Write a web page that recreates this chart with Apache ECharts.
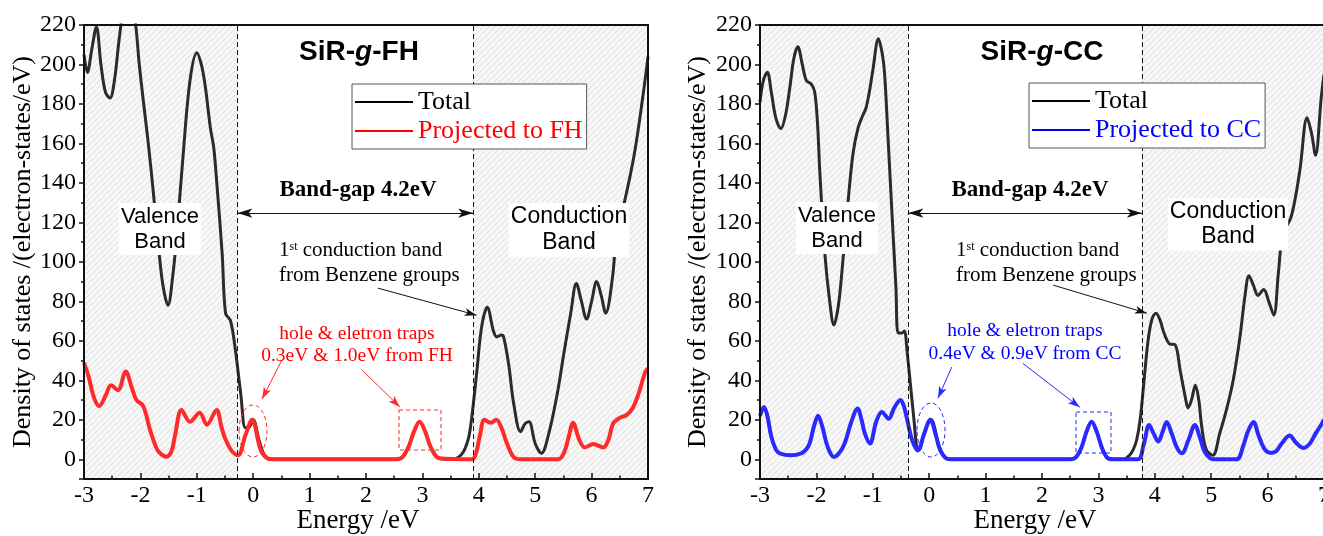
<!DOCTYPE html>
<html><head><meta charset="utf-8">
<script src="https://cdn.jsdelivr.net/npm/echarts@6.0.0/dist/echarts.min.js"></script>
<style>html,body{margin:0;padding:0;background:#fff}#c{width:1323px;height:536px}</style>
</head><body><div id="c"></div><script>
// ---------------- data (energy eV, DOS) ----------------
const totalFH = [[-3.0,205],[-2.94,196],[-2.86,208],[-2.78,219],[-2.70,200],[-2.62,186],[-2.54,183],[-2.46,192],[-2.38,212],[-2.30,228],[-2.20,236],[-2.10,224],[-2.02,200],[-1.95,182],[-1.86,160],[-1.77,135],[-1.68,108],[-1.60,88],[-1.51,78],[-1.43,92],[-1.36,112],[-1.24,155],[-1.12,192],[-1.00,206],[-0.92,200],[-0.85,189],[-0.76,168],[-0.70,158],[-0.64,138],[-0.55,104],[-0.49,74],[-0.40,70],[-0.31,54],[-0.22,33],[-0.14,16],[-0.08,16],[0.0,20],[0.1,10],[0.2,2],[0.3,0],[0.5,0],[2.5,0],[2.62,0.5],[2.75,6],[2.85,14],[2.95,19],[3.05,14],[3.15,6],[3.3,0.5],[3.5,0],[3.6,0.5],[3.68,2],[3.75,5],[3.82,11],[3.87,20],[3.96,43],[4.05,67],[4.15,77],[4.26,65],[4.32,62],[4.40,63],[4.44,62],[4.53,48],[4.62,28],[4.74,14],[4.82,18],[4.89,19],[5.00,8],[5.11,3],[5.24,13],[5.39,33],[5.51,54],[5.63,74],[5.73,89],[5.82,80],[5.91,71],[6.00,80],[6.09,90],[6.17,83],[6.25,74],[6.37,92],[6.45,116],[6.58,130],[6.76,155],[6.91,184],[7.0,204]];
const projFH = [[-3.0,49],[-2.92,42],[-2.82,31],[-2.73,27],[-2.62,32],[-2.52,37.5],[-2.40,35],[-2.26,44.5],[-2.15,36],[-2.07,30],[-1.95,27],[-1.83,15],[-1.72,6],[-1.65,3],[-1.54,1.3],[-1.45,4],[-1.39,11.5],[-1.27,25],[-1.12,19],[-0.95,23.5],[-0.82,17.5],[-0.65,25],[-0.56,16],[-0.49,10],[-0.375,4],[-0.27,2],[-0.14,12],[-0.02,20],[0.13,5],[0.25,0.5],[0.35,0],[2.5,0],[2.62,0.5],[2.75,6],[2.85,14],[2.95,19],[3.05,14],[3.15,6],[3.3,0.5],[3.88,0],[3.95,3],[4.02,12],[4.10,20],[4.21,18.5],[4.31,20],[4.40,16],[4.50,8],[4.62,1],[4.75,0],[5.41,0],[5.52,4],[5.60,12],[5.67,18.5],[5.78,10],[5.88,6],[6.03,7.7],[6.21,6],[6.30,10],[6.38,18],[6.50,21],[6.62,22.4],[6.73,26],[6.83,33],[6.95,44],[7.0,46]];
const totalCC = [[-3.0,181],[-2.94,192],[-2.87,196],[-2.80,186],[-2.72,173],[-2.63,167.5],[-2.55,174],[-2.47,188.5],[-2.40,203],[-2.33,209],[-2.25,200],[-2.18,192],[-2.09,190],[-2.03,186],[-1.98,170],[-1.94,146],[-1.85,104],[-1.76,79],[-1.69,68],[-1.62,76],[-1.56,91],[-1.44,130],[-1.35,155],[-1.26,168],[-1.18,174],[-1.12,178],[-1.05,188],[-1.00,197],[-0.90,213],[-0.83,205],[-0.79,195],[-0.73,163],[-0.67,130],[-0.59,87],[-0.55,64],[-0.48,64],[-0.44,65],[-0.39,54],[-0.33,37],[-0.27,20],[-0.22,6],[-0.18,5],[-0.08,14],[0.03,20],[0.19,5],[0.3,0.5],[0.4,0],[2.5,0],[2.6,1],[2.70,6],[2.79,14],[2.88,19],[2.97,14],[3.06,6],[3.15,1],[3.25,0],[3.44,0],[3.55,2],[3.62,5],[3.68,10],[3.74,20],[3.80,37],[3.88,60],[3.95,71],[4.02,74],[4.10,70],[4.15,65],[4.26,58.5],[4.36,58],[4.45,45],[4.54,31.5],[4.59,26],[4.65,30],[4.72,37.5],[4.78,30],[4.83,17],[4.91,5],[5.03,2],[5.15,13],[5.27,25],[5.39,40],[5.51,62],[5.60,83],[5.67,93],[5.75,88],[5.83,83],[5.93,86],[6.02,80],[6.11,73],[6.19,94],[6.27,114],[6.42,123],[6.57,146],[6.70,173],[6.78,165],[6.85,154],[6.95,183],[7.0,195]];
const projCC = [[-3.0,22],[-2.93,26.5],[-2.87,22],[-2.80,11.5],[-2.72,5],[-2.65,3],[-2.45,2],[-2.27,3],[-2.18,5],[-2.12,8],[-2.04,17],[-1.97,22],[-1.90,17],[-1.82,8],[-1.75,3],[-1.69,1.2],[-1.60,3],[-1.50,8],[-1.38,19],[-1.27,25.7],[-1.20,20],[-1.14,13],[-1.05,8],[-0.94,19],[-0.84,24],[-0.72,20.5],[-0.62,26],[-0.51,30],[-0.45,27],[-0.39,20],[-0.30,9.5],[-0.20,4.5],[-0.10,12],[0.02,20],[0.12,12],[0.19,5],[0.3,0.5],[0.4,0],[2.5,0],[2.6,1],[2.70,6],[2.79,14],[2.88,19],[2.97,14],[3.06,6],[3.15,1],[3.25,0],[3.7,0],[3.80,7],[3.90,17.4],[3.98,13],[4.06,9],[4.14,14],[4.21,18.9],[4.30,13],[4.39,6],[4.48,3],[4.60,10],[4.71,17.4],[4.80,11],[4.88,4],[4.98,0.5],[5.05,0],[5.45,0],[5.57,7],[5.65,14],[5.75,18.9],[5.84,12],[5.95,5],[6.06,3.2],[6.15,4],[6.25,8],[6.39,12],[6.50,8.5],[6.63,5.7],[6.75,8],[6.85,13],[6.96,18],[7.0,20]];
const gapFH = [-0.28, 3.9];
const gapCC = [-0.37, 3.77];
const yBandArrow = 124.7;
const titles = ['SiR-', 'g', '-FH', '-CC'];
const seriesNames = ['Total', 'Projected to FH', 'Projected to CC'];

// ---------------- style ----------------
const SERIF = '"Liberation Serif","Times New Roman",serif';
const SANS = '"Liberation Sans",Arial,sans-serif';
const BLACK = '#2b2b2b', RED = '#ff2a2a', BLUE = '#2a2aff';

function makeHatch(){
  const s = 6, c = document.createElement('canvas'); c.width = s; c.height = s;
  const g = c.getContext('2d');
  g.fillStyle = '#f7f7f7'; g.fillRect(0,0,s,s);
  g.strokeStyle = '#dcdcdc'; g.lineWidth = 0.9;
  [[-1,s+1,s+1,-1],[-1,1,1,-1],[s-1,s+1,s+1,s-1]].forEach(l=>{g.beginPath();g.moveTo(l[0],l[1]);g.lineTo(l[2],l[3]);g.stroke();});
  return c;
}
const hatch = {image: makeHatch(), repeat: 'repeat'};

const axisLineStyle = {color:'#111', width:2};
function xMain(gi){return {type:'value', gridIndex:gi, min:-3, max:7, interval:1, z:10,
  axisLine:{show:true, onZero:false, lineStyle:axisLineStyle},
  axisTick:{show:true, inside:true, length:6, lineStyle:{color:'#111', width:1.5}},
  minorTick:{show:true, splitNumber:2, length:3.5, lineStyle:{color:'#111', width:1.5}},
  axisLabel:{color:'#000', fontFamily:SERIF, fontSize:24, margin:5},
  splitLine:{show:false}, minorSplitLine:{show:false}};}
function xTop(gi){return {type:'value', gridIndex:gi, position:'top', min:-3, max:7, z:10,
  axisLine:{show:true, onZero:false, lineStyle:axisLineStyle}, axisTick:{show:false}, axisLabel:{show:false}, splitLine:{show:false}};}
function yMain(gi){return {type:'value', gridIndex:gi, min:-10, max:220, splitNumber:11, z:10,
  axisLine:{show:true, onZero:false, lineStyle:axisLineStyle},
  axisTick:{show:true, inside:false, length:5, lineStyle:{color:'#111', width:1.5}},
  minorTick:{show:true, splitNumber:2, length:3, lineStyle:{color:'#111', width:1.5}},
  axisLabel:{color:'#000', fontFamily:SERIF, fontSize:24, margin:8, formatter:v=> v<0 ? '' : String(v)},
  splitLine:{show:false}, minorSplitLine:{show:false}};}
function yRight(gi){return {type:'value', gridIndex:gi, position:'right', min:-10, max:220, z:10,
  axisLine:{show:true, onZero:false, lineStyle:axisLineStyle}, axisTick:{show:false}, axisLabel:{show:false}, splitLine:{show:false}};}

function seg(a, b, o){ return [Object.assign({coord:a}, o.from), Object.assign({coord:b}, o.to)]; }
function totalSeries(gi, data, gap, ptrFrom, ptrTo){
  const dash = {symbol:'none', lineStyle:{type:[5,3], color:'#111', width:1}};
  return {name:seriesNames[0], type:'line', xAxisIndex:gi, yAxisIndex:gi, data, smooth:0.35, symbol:'none',
    lineStyle:{color:BLACK, width:3}, itemStyle:{color:BLACK}, z:3,
    markArea:{silent:true, label:{show:false}, itemStyle:{color:hatch},
      data:[[{xAxis:-3},{xAxis:gap[0]}],[{xAxis:gap[1]},{xAxis:7}]]},
    markLine:{silent:true, animation:false, label:{show:false}, emphasis:{disabled:true},
      data:[
        seg([gap[0],-10],[gap[0],220],{from:dash, to:{symbol:'none'}}),
        seg([gap[1],-10],[gap[1],220],{from:dash, to:{symbol:'none'}}),
        seg([gap[0],yBandArrow],[gap[1],yBandArrow],{from:{symbol:'arrow', symbolSize:[7,15], lineStyle:{type:'solid', color:'#111', width:1}}, to:{symbol:'arrow', symbolSize:[7,15]}}),
        seg(ptrFrom, ptrTo, {from:{symbol:'none', lineStyle:{type:'solid', color:'#111', width:1}}, to:{symbol:'arrow', symbolSize:[6,12]}})
      ]}};
}
function projSeries(gi, name, data, color, arrows){
  return {name, type:'line', xAxisIndex:gi, yAxisIndex:gi, data, smooth:0.35, symbol:'none',
    lineStyle:{color, width:4}, itemStyle:{color}, z:4,
    markLine:{silent:true, animation:false, label:{show:false}, emphasis:{disabled:true},
      data: arrows.map(a=>seg(a[0], a[1], {from:{symbol:'none', lineStyle:{type:'solid', color, width:1}}, to:{symbol:'arrow', symbolSize:[6,12]}}))}};
}
function legend(left, top, name2, color2){
  return {orient:'vertical', left, top, itemWidth:58, itemHeight:14, itemGap:3, padding:[5,4,5,3],
    backgroundColor:'#fff', borderColor:'#555', borderWidth:1, z:20, selectedMode:false,
    icon:'path://M0,6L58,6L58,8L0,8Z',
    textStyle:{fontFamily:SERIF, fontSize:26, lineHeight:26},
    data:[{name:seriesNames[0], textStyle:{color:'#000'}, itemStyle:{color:'#000'}}, {name:name2, textStyle:{color:color2}, itemStyle:{color:color2}}]};
}
function txt(x, y, text, st){ return {type:'text', x, y, z:100, style:Object.assign({text, align:'center', verticalAlign:'middle', fill:'#000'}, st)}; }
function title(x, tail){
  const a = {fontFamily:SANS, fontSize:28, fontWeight:'bold', fill:'#000'};
  return txt(x, 52, '{a|'+titles[0]+'}{b|'+titles[1]+'}{a|'+tail+'}', {rich:{a, b:Object.assign({}, a, {fontStyle:'italic'})}});
}
function firstBand(x){
  const n = {fontFamily:SERIF, fontSize:21, lineHeight:25, fill:'#000'};
  return txt(x, 262.5, '{n|1}{s|st}{n| conduction band}\n{n|from Benzene groups}', {align:'left', rich:{n, s:{fontFamily:SERIF, fontSize:12, lineHeight:25, verticalAlign:'top', fill:'#000', padding:[3,0,0,0]}}});
}
const bandLbl = {fontFamily:SANS, fontSize:22, lineHeight:25, backgroundColor:'#fff', padding:[1,2]};
const gapLbl = {fontFamily:SERIF, fontSize:23, fontWeight:'bold', backgroundColor:'#fff', padding:[0,2]};
const dashRed = {fill:'none', stroke:RED, lineWidth:1, lineDash:[4,3]};
const dashBlue = {fill:'none', stroke:BLUE, lineWidth:1, lineDash:[4,3]};
const yTitle = {fontFamily:SERIF, fontSize:26};

const option = {
  animation:false,
  backgroundColor:'#fff',
  grid:[{left:84, top:25, width:564, height:454, containLabel:false, outerBoundsMode:'none'},
        {left:760, top:25, width:564, height:454, containLabel:false, outerBoundsMode:'none'}],
  xAxis:[xMain(0), xMain(1), xTop(0), xTop(1)],
  yAxis:[yMain(0), yMain(1), yRight(0), yRight(1)],
  legend:[legend(352, 84, seriesNames[1], '#ff0000'), legend(1029, 83, seriesNames[2], '#0000ff')],
  series:[
    totalSeries(0, totalFH, gapFH, [2.21,86.7], [3.96,73]),
    projSeries(0, seriesNames[1], projFH, RED, [[[0.51,50.3],[0.156,30.5]], [[1.93,45.2],[2.60,26.5]]]),
    totalSeries(1, totalCC, gapCC, [2.20,88.2], [3.86,74]),
    projSeries(1, seriesNames[2], projCC, BLUE, [[[0.40,46.7],[0.156,30.9]], [[1.66,48.6],[2.67,26.3]]])
  ],
  graphic:[
    title(359, titles[2]), title(1042, titles[3]),
    txt(160, 229, 'Valence\nBand', bandLbl),
    txt(837, 228, 'Valence\nBand', bandLbl),
    txt(569, 230, 'Conduction\nBand', Object.assign({}, bandLbl, {fontSize:23, lineHeight:26})),
    txt(1228, 224.5, 'Conduction\nBand', Object.assign({}, bandLbl, {fontSize:23, lineHeight:25})),
    txt(358, 190, 'Band-gap 4.2eV', gapLbl),
    txt(1030, 190, 'Band-gap 4.2eV', gapLbl),
    firstBand(279), firstBand(956),
    txt(357, 345, 'hole & eletron traps\n0.3eV & 1.0eV from FH', {fontFamily:SERIF, fontSize:19.5, lineHeight:22, fill:'#ff0000'}),
    txt(1025, 342.5, 'hole & eletron traps\n0.4eV & 0.9eV from CC', {fontFamily:SERIF, fontSize:19.5, lineHeight:23, fill:'#0000ff'}),
    {type:'ellipse', z:100, shape:{cx:253, cy:431, rx:14, ry:26}, style:dashRed},
    {type:'rect', z:100, shape:{x:399, y:410, width:42, height:40}, style:dashRed},
    {type:'ellipse', z:100, shape:{cx:931, cy:430, rx:14, ry:27}, style:dashBlue},
    {type:'rect', z:100, shape:{x:1076, y:412, width:35, height:41}, style:dashBlue},
    Object.assign(txt(23, 252, 'Density of states /(electron-states/eV)', yTitle), {rotation:Math.PI/2}),
    Object.assign(txt(698, 252, 'Density of states /(electron-states/eV)', yTitle), {rotation:Math.PI/2}),
    txt(358, 521, 'Energy /eV', {fontFamily:SERIF, fontSize:27}),
    txt(1035, 521, 'Energy /eV', {fontFamily:SERIF, fontSize:27})
  ]
};

const chart = echarts.init(document.getElementById('c'), null, {renderer:'canvas'});
chart.setOption(option);
</script></body></html>
